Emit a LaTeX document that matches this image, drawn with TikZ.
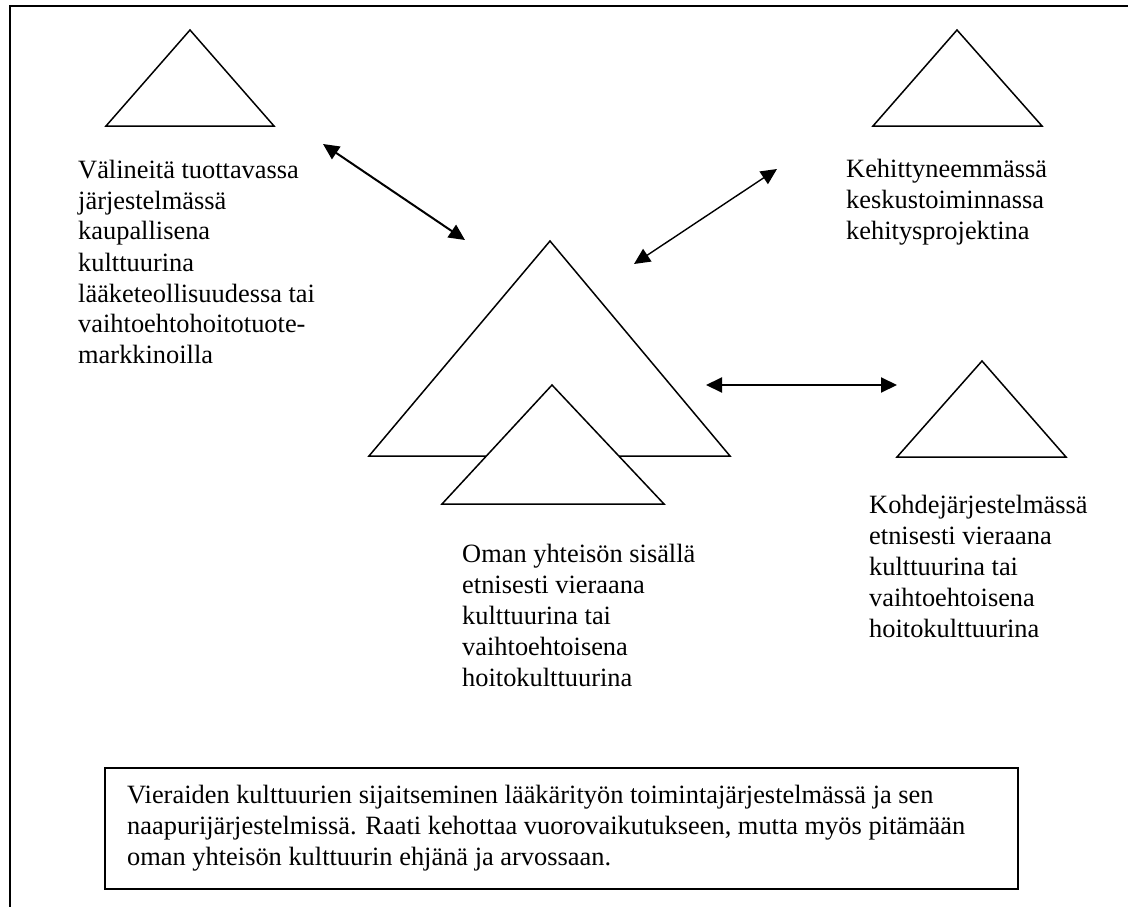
\documentclass[tikz,border=0pt]{standalone}
\usepackage{fontspec}
\setmainfont{Liberation Serif}
\usetikzlibrary{arrows.meta}

\tikzset{
  tri/.style={draw=black, line width=1.5pt, line join=miter},
  label/.style={anchor=base west, inner sep=0pt, font=\fontsize{26.4}{31}\selectfont},
  link/.style={{Triangle[length=16pt,width=15pt]}-{Triangle[length=16pt,width=15pt]}, line width=2pt},
  thinlink/.style={{Triangle[length=16pt,width=15pt]}-{Triangle[length=16pt,width=15pt]}, line width=1.4pt},
  frame/.style={draw=black, line width=2pt}
}

\newcommand{\labeltext}[2]{\parbox[t]{#1}{\raggedright #2}}

\begin{document}
\begin{tikzpicture}[x=1pt, y=-1pt]
  \useasboundingbox (0,0) rectangle (1128,907);
  \clip (0,0) rectangle (1128,907);

  % outer frame (right and bottom edges run past the page)
  \draw[frame] (10,930) -- (10,6) -- (1150,6);

  % triangles
  \draw[tri] (106,126) -- (190,30) -- (274,126) -- cycle;   % tool-producing system
  \draw[tri] (873,126) -- (957,30) -- (1042,126) -- cycle;  % central activity
  \draw[tri] (897,457) -- (982,361) -- (1066,457) -- cycle; % object system
  \draw[tri] (369,456) -- (550,241) -- (730,456) -- cycle;  % own activity system
  \draw[tri, fill=white] (442,504) -- (552,385) -- (664,504) -- cycle; % culture within

  % arrow end points
  \coordinate (a1s) at (323,144);
  \coordinate (a1e) at (465,240);
  \coordinate (a2s) at (777,169);
  \coordinate (a2e) at (634,264);
  \coordinate (a3s) at (706,385);
  \coordinate (a3e) at (897,385);

  \draw[link] (a1s) -- (a1e);
  \draw[thinlink] (a2s) -- (a2e);
  \draw[link] (a3s) -- (a3e);

  % labels
  \node[label] (tool) at (78,178) {\labeltext{300pt}{Välineitä tuottavassa\\järjestelmässä\\kaupallisena\\kulttuurina\\lääketeollisuudessa tai\\vaihtoehtohoitotuote-\\markkinoilla}};
  \node[label] (center) at (846,177) {\labeltext{270pt}{Kehittyneemmässä\\keskustoiminnassa\\kehitysprojektina}};
  \node[label] (own) at (462,562) {\labeltext{300pt}{Oman yhteisön sisällä\\etnisesti vieraana\\kulttuurina tai\\vaihtoehtoisena\\hoitokulttuurina}};
  \node[label] (object) at (869,513) {\labeltext{250pt}{Kohdejärjestelmässä\\etnisesti vieraana\\kulttuurina tai\\vaihtoehtoisena\\hoitokulttuurina}};

  % caption box
  \draw[frame] (105,768) rectangle (1018,889);
  \node[label] (caption) at (127,803) {\labeltext{880pt}{Vieraiden kulttuurien sijaitseminen lääkärityön toimintajärjestelmässä ja sen\\naapurijärjestelmissä. Raati kehottaa vuorovaikutukseen, mutta myös pitämään\\oman yhteisön kulttuurin ehjänä ja arvossaan.}};
\end{tikzpicture}
\end{document}
